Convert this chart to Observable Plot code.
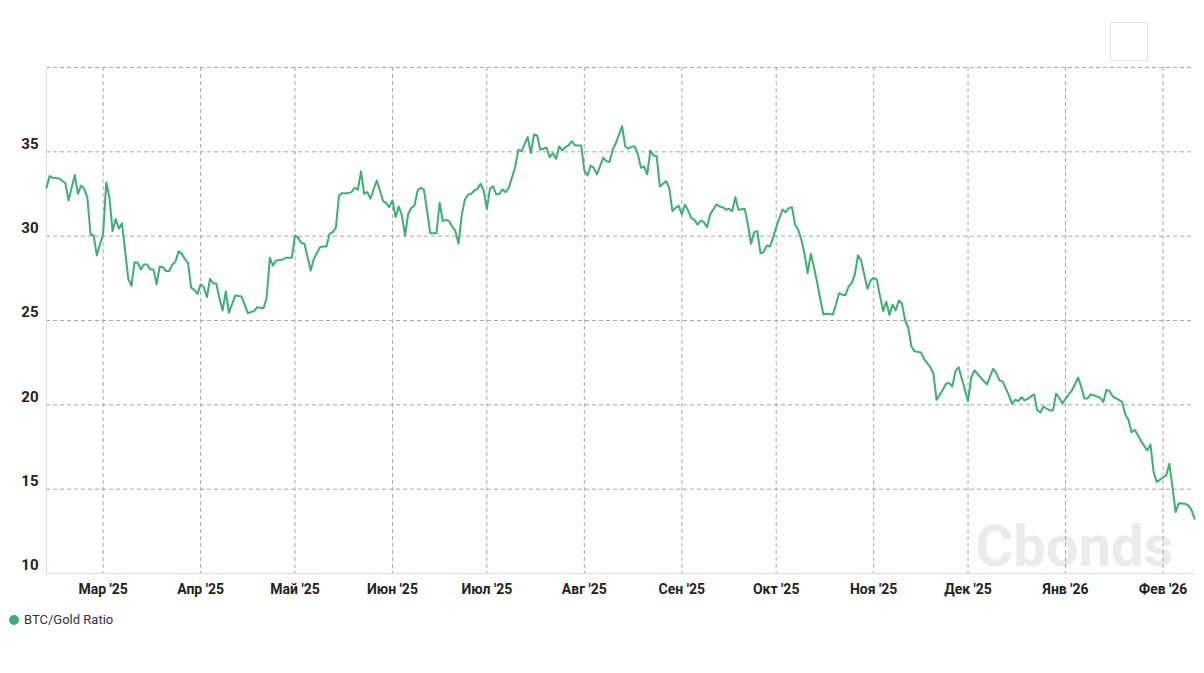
<!DOCTYPE html>
<html>
<head>
<meta charset="utf-8">
<script src="https://cdn.jsdelivr.net/npm/d3@7"></script>
<script src="https://cdn.jsdelivr.net/npm/@observablehq/plot@0.6"></script>
<style>
  html, body { margin: 0; padding: 0; background: #fff; }
  #wrap { position: relative; width: 1204px; height: 673px; font-family: Roboto, "DejaVu Sans", sans-serif; }
  #chart { position: absolute; left: 0; top: 0; }
  #legend { position: absolute; left: 9px; top: 612px; display: flex; align-items: center; font-size: 13px; color: #333; }
  #legend .dot { width: 10px; height: 10px; border-radius: 50%; margin-right: 5px; }
  #btn { position: absolute; left: 1110px; top: 22px; width: 36px; height: 37px; border: 1px solid #e4e4e4; background: #fff; }
</style>
</head>
<body>
<div id="wrap">
  <div id="chart"></div>
  <div id="btn"></div>
  <div id="legend"><span class="dot"></span><span id="legendText"></span></div>
</div>
<script>
const seriesName = "BTC/Gold Ratio";
const lineColor = "#3cb072";

const dates = [
"2025-02-11","2025-02-12","2025-02-13","2025-02-15","2025-02-17","2025-02-18","2025-02-20","2025-02-21","2025-02-22","2025-02-23",
"2025-02-24","2025-02-25","2025-02-26","2025-02-27","2025-03-01","2025-03-02","2025-03-03","2025-03-04","2025-03-05","2025-03-06",
"2025-03-07","2025-03-09","2025-03-10","2025-03-11","2025-03-12","2025-03-13","2025-03-14","2025-03-15","2025-03-16","2025-03-17",
"2025-03-18","2025-03-19","2025-03-20","2025-03-21","2025-03-22","2025-03-23","2025-03-24","2025-03-25","2025-03-26","2025-03-27",
"2025-03-28","2025-03-29","2025-03-30","2025-03-31","2025-04-01","2025-04-02","2025-04-03","2025-04-04","2025-04-05","2025-04-06",
"2025-04-07","2025-04-08","2025-04-09","2025-04-10","2025-04-12","2025-04-14","2025-04-16","2025-04-18","2025-04-19","2025-04-21",
"2025-04-22","2025-04-23","2025-04-24","2025-04-25","2025-04-27","2025-04-28","2025-04-30","2025-05-01","2025-05-02","2025-05-03",
"2025-05-04","2025-05-06","2025-05-07","2025-05-09","2025-05-10","2025-05-11","2025-05-12","2025-05-13","2025-05-14","2025-05-15",
"2025-05-16","2025-05-18","2025-05-19","2025-05-20","2025-05-21","2025-05-22","2025-05-23","2025-05-24","2025-05-25","2025-05-27",
"2025-05-28","2025-05-29","2025-05-30","2025-05-31","2025-06-01","2025-06-02","2025-06-03","2025-06-04","2025-06-05","2025-06-06",
"2025-06-07","2025-06-08","2025-06-09","2025-06-10","2025-06-11","2025-06-12","2025-06-13","2025-06-15","2025-06-16","2025-06-17",
"2025-06-18","2025-06-19","2025-06-20","2025-06-21","2025-06-22","2025-06-23","2025-06-24","2025-06-25","2025-06-26","2025-06-27",
"2025-06-28","2025-06-29","2025-06-30","2025-07-01","2025-07-02","2025-07-03","2025-07-04","2025-07-05","2025-07-06","2025-07-07",
"2025-07-08","2025-07-10","2025-07-11","2025-07-12","2025-07-14","2025-07-15","2025-07-16","2025-07-17","2025-07-18","2025-07-20",
"2025-07-21","2025-07-22","2025-07-23","2025-07-24","2025-07-25","2025-07-26","2025-07-27","2025-07-28","2025-07-29","2025-07-31",
"2025-08-01","2025-08-02","2025-08-03","2025-08-04","2025-08-05","2025-08-07","2025-08-08","2025-08-09","2025-08-10","2025-08-11",
"2025-08-13","2025-08-14","2025-08-15","2025-08-16","2025-08-17","2025-08-18","2025-08-19","2025-08-20","2025-08-21","2025-08-22",
"2025-08-23","2025-08-24","2025-08-25","2025-08-26","2025-08-27","2025-08-28","2025-08-29","2025-08-30","2025-08-31","2025-09-01",
"2025-09-02","2025-09-03","2025-09-04","2025-09-05","2025-09-06","2025-09-07","2025-09-08","2025-09-09","2025-09-10","2025-09-12",
"2025-09-13","2025-09-14","2025-09-15","2025-09-16","2025-09-17","2025-09-18","2025-09-19","2025-09-21","2025-09-22","2025-09-23",
"2025-09-24","2025-09-25","2025-09-26","2025-09-27","2025-09-28","2025-09-29","2025-09-30","2025-10-01","2025-10-03","2025-10-04",
"2025-10-05","2025-10-06","2025-10-07","2025-10-08","2025-10-09","2025-10-10","2025-10-11","2025-10-12","2025-10-13","2025-10-14",
"2025-10-15","2025-10-16","2025-10-17","2025-10-19","2025-10-20","2025-10-21","2025-10-22","2025-10-23","2025-10-24","2025-10-25",
"2025-10-26","2025-10-27","2025-10-28","2025-10-29","2025-10-30","2025-10-31","2025-11-01","2025-11-02","2025-11-03","2025-11-04",
"2025-11-05","2025-11-06","2025-11-07","2025-11-08","2025-11-09","2025-11-10","2025-11-11","2025-11-12","2025-11-13","2025-11-14",
"2025-11-16","2025-11-17","2025-11-19","2025-11-20","2025-11-21","2025-11-23","2025-11-24","2025-11-25","2025-11-26","2025-11-27",
"2025-11-28","2025-12-01","2025-12-02","2025-12-03","2025-12-04","2025-12-05","2025-12-06","2025-12-07","2025-12-09","2025-12-10",
"2025-12-11","2025-12-12","2025-12-14","2025-12-15","2025-12-16","2025-12-17","2025-12-18","2025-12-19","2025-12-20","2025-12-21",
"2025-12-22","2025-12-23","2025-12-24","2025-12-25","2025-12-26","2025-12-27","2025-12-28","2025-12-29","2025-12-30","2025-12-31",
"2026-01-03","2026-01-05","2026-01-06","2026-01-07","2026-01-08","2026-01-09","2026-01-10","2026-01-12","2026-01-13","2026-01-14",
"2026-01-15","2026-01-16","2026-01-19","2026-01-20","2026-01-21","2026-01-22","2026-01-23","2026-01-24","2026-01-25","2026-01-27",
"2026-01-28","2026-01-29","2026-01-30","2026-01-31","2026-02-02","2026-02-03","2026-02-04","2026-02-05","2026-02-06","2026-02-08",
"2026-02-09","2026-02-10","2026-02-11"
];

const values = [
32.87,33.56,33.46,33.42,33.14,32.12,33.62,32.51,33.0,32.8,
32.28,30.1,30.04,28.87,30.14,33.18,32.31,30.3,31.01,30.44,
30.77,27.47,27.06,28.46,28.42,28.03,28.32,28.32,28.03,28.03,
27.14,28.2,28.16,27.93,27.93,28.32,28.48,29.11,28.95,28.64,
28.4,26.94,26.82,26.58,27.14,26.98,26.39,27.47,27.21,27.18,
26.29,25.6,26.72,25.46,26.48,26.43,25.44,25.56,25.79,25.73,
26.35,28.72,28.26,28.56,28.6,28.72,28.72,30.04,29.9,29.6,
29.55,27.97,28.66,29.35,29.39,29.39,30.14,30.24,30.5,32.41,
32.55,32.55,32.61,32.87,32.75,33.84,32.51,32.61,32.22,33.3,
32.71,32.08,31.96,31.72,32.12,31.13,31.76,31.23,30.04,31.33,
31.68,31.82,32.71,32.87,32.75,31.52,30.18,30.18,31.98,30.89,
30.97,30.89,30.57,30.3,29.55,31.23,32.16,32.46,32.51,32.71,
32.79,33.11,32.71,31.62,32.81,32.95,32.47,32.51,32.77,32.61,
32.87,34.09,35.12,35.04,35.87,34.92,36.03,35.97,35.12,35.24,
34.68,34.92,34.59,35.32,35.08,35.28,35.38,35.63,35.38,35.38,
33.9,33.6,34.19,34.05,33.66,34.65,34.45,34.39,35.12,35.51,
36.52,35.32,35.18,35.32,35.32,34.88,34.05,34.13,33.66,35.08,
34.78,34.74,32.95,33.11,33.26,32.87,31.48,31.68,31.8,31.29,
31.86,31.52,31.07,30.97,30.68,30.93,30.83,30.53,31.29,31.88,
31.76,31.72,31.57,31.63,31.48,32.31,31.57,31.63,30.69,29.55,
30.24,30.3,28.99,29.05,29.45,29.39,29.9,30.53,31.58,31.42,
31.66,31.72,30.69,30.38,29.79,28.96,27.81,28.96,28.17,27.27,
26.29,25.36,25.4,25.36,25.95,26.62,26.53,26.5,27.0,27.22,
27.72,28.86,28.56,27.73,26.88,27.37,27.53,27.42,26.46,25.56,
26.11,25.32,25.95,25.6,26.19,25.99,25.0,24.57,23.46,23.17,
23.11,22.73,22.23,21.84,20.3,20.89,21.25,21.29,21.09,22.0,
22.23,20.22,21.61,22.04,21.84,21.61,21.41,21.21,22.14,21.88,
21.45,21.39,20.56,20.06,20.3,20.22,20.46,20.26,20.36,20.5,
20.62,19.67,19.55,19.9,19.77,19.67,19.67,20.66,20.42,20.1,
20.85,21.61,21.05,20.38,20.38,20.62,20.56,20.42,20.17,20.89,
20.81,20.5,20.17,19.43,19.12,18.38,18.52,18.19,17.85,17.3,
17.65,16.01,15.42,15.56,15.81,16.5,15.12,13.64,14.17,14.14,
14.04,13.79,13.25
];

const monthTicks = ["2025-03-01","2025-04-01","2025-05-01","2025-06-01","2025-07-01","2025-08-01",
                    "2025-09-01","2025-10-01","2025-11-01","2025-12-01","2026-01-01","2026-02-01"];
const monthLabels = ["Мар '25","Апр '25","Май '25","Июн '25","Июл '25","Авг '25",
                     "Сен '25","Окт '25","Ноя '25","Дек '25","Янв '26","Фев '26"];
const yTicks = [10, 15, 20, 25, 30, 35];
const yGrid = [15, 20, 25, 30, 35, 40];
const watermark = "Cbonds";

const data = dates.map((d, i) => ({date: new Date(d), value: values[i]}));
const tickDates = monthTicks.map(d => new Date(d));
const labelMap = new Map(tickDates.map((d, i) => [+d, monthLabels[i]]));
const xDomain = d3.extent(data, d => d.date);

const gridStyle = {stroke: "#a8a8a8", strokeOpacity: 1, strokeWidth: 1, strokeDasharray: "4,3"};

const chart = Plot.plot({
  width: 1204,
  height: 605,
  marginTop: 67,
  marginBottom: 32,
  marginLeft: 46,
  marginRight: 10,
  style: {fontFamily: "Roboto, 'DejaVu Sans', sans-serif", fontSize: "14px", background: "#fff", color: "#222"},
  x: {type: "utc", domain: xDomain},
  y: {domain: [10, 40]},
  marks: [
    Plot.text([watermark], {frameAnchor: "bottom-right", text: d => d, dx: -21, dy: -8, fontSize: 58, fontWeight: 700, fill: "#ebebeb", textAnchor: "end", lineAnchor: "bottom"}),
    Plot.gridY(yGrid, gridStyle),
    Plot.gridX(tickDates, gridStyle),
    Plot.ruleY([10], {stroke: "#dcdcdc", strokeWidth: 1}),
    Plot.ruleX([xDomain[0]], {stroke: "#dcdcdc", strokeWidth: 1}),
    Plot.axisY(yTicks, {tickSize: 0, tickPadding: 8, dy: -8, fontWeight: 700, fontSize: 15, fill: "#222", label: null}),
    Plot.axisX(tickDates, {tickSize: 0, tickPadding: 11, tickFormat: d => labelMap.get(+d), fontWeight: 700, fontSize: 14, fill: "#222", label: null}),
    Plot.line(data, {x: "date", y: "value", stroke: lineColor, strokeWidth: 2})
  ]
});
document.getElementById("chart").appendChild(chart);
document.querySelector("#legend .dot").style.background = lineColor;
document.getElementById("legendText").textContent = seriesName;
</script>
</body>
</html>
